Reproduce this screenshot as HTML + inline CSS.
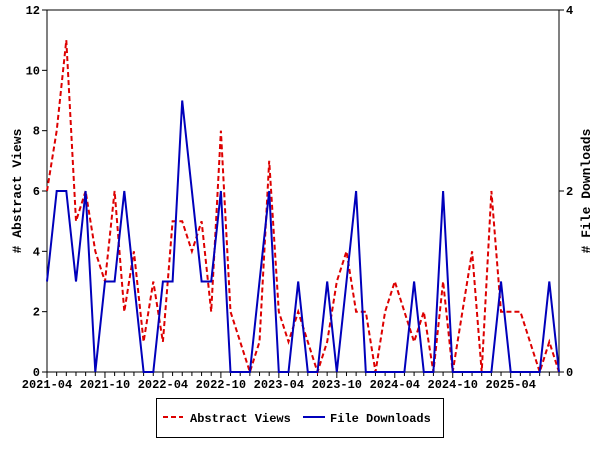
<!DOCTYPE html>
<html><head><meta charset="utf-8"><style>
body{margin:0;background:#fff}
svg{display:block}
text{font-family:"Liberation Mono","DejaVu Sans Mono",monospace;font-size:12px;font-weight:bold;fill:#000}
</style></head><body>
<svg id="s" width="600" height="450" xmlns="http://www.w3.org/2000/svg">
<rect x="47" y="10" width="512" height="362" fill="none" stroke="#000" stroke-width="1"/>
<g id="ticks" stroke="#000" stroke-width="1"></g>
<g id="labels"></g>
<polyline id="red" fill="none" stroke="#dd0000" stroke-width="2" stroke-dasharray="5,3"/>
<polyline id="blue" fill="none" stroke="#0000bb" stroke-width="2"/>
<text transform="translate(21,191) rotate(-90)" text-anchor="middle" style="font-size:13px"># Abstract Views</text>
<text transform="translate(590,191) rotate(-90)" text-anchor="middle" style="font-size:13px"># File Downloads</text>
<rect x="156.5" y="398.5" width="287" height="39" fill="#fff" stroke="#000"/>
<line x1="163" y1="417" x2="183" y2="417" stroke="#dd0000" stroke-width="2" stroke-dasharray="5,3"/>
<text x="190" y="422">Abstract Views</text>
<line x1="303" y1="417" x2="325" y2="417" stroke="#0000bb" stroke-width="2"/>
<text x="330" y="422">File Downloads</text>
</svg>
<script>
var red=[6,8,11,5,6,4,3,6,2,4,1,3,1,5,5,4,5,2,8,2,1,0,1,7,2,1,2,1,0,1,3,4,2,2,0,2,3,2,1,2,0,3,0,2,4,0,6,2,2,2,1,0,1,0];
var blue=[3,6,6,3,6,0,3,3,6,3,0,0,3,3,9,6,3,3,6,0,0,0,3,6,0,0,3,0,0,3,0,3,6,0,0,0,0,0,3,0,0,6,0,0,0,0,0,3,0,0,0,0,3,0];
var x0=47,dx=512/53,y0=372,sy=362/12;
function pts(a){return a.map(function(v,i){return (x0+i*dx).toFixed(1)+","+(y0-v*sy).toFixed(1)}).join(" ")}
document.getElementById("red").setAttribute("points",pts(red));
document.getElementById("blue").setAttribute("points",pts(blue));
var t="",l="";
for(var i=0;i<54;i++){var x=x0+i*dx;t+='<line x1="'+x+'" y1="372" x2="'+x+'" y2="'+(i%6==0?378:376)+'"/>';}
var lab=["2021-04","2021-10","2022-04","2022-10","2023-04","2023-10","2024-04","2024-10","2025-04"];
for(var k=0;k<9;k++){l+='<text x="'+(x0+k*6*dx)+'" y="388" text-anchor="middle">'+lab[k]+'</text>';}
for(var v=0;v<=12;v+=2){var y=y0-v*sy;t+='<line x1="42" y1="'+y+'" x2="47" y2="'+y+'"/>';l+='<text x="40" y="'+(y+4)+'" text-anchor="end">'+v+'</text>';}
for(var v=0;v<=4;v+=2){var y=y0-v*362/4;t+='<line x1="559" y1="'+y+'" x2="564" y2="'+y+'"/>';l+='<text x="566" y="'+(y+4)+'">'+v+'</text>';}
document.getElementById("ticks").innerHTML=t;
document.getElementById("labels").innerHTML=l;
</script>
</body></html>
